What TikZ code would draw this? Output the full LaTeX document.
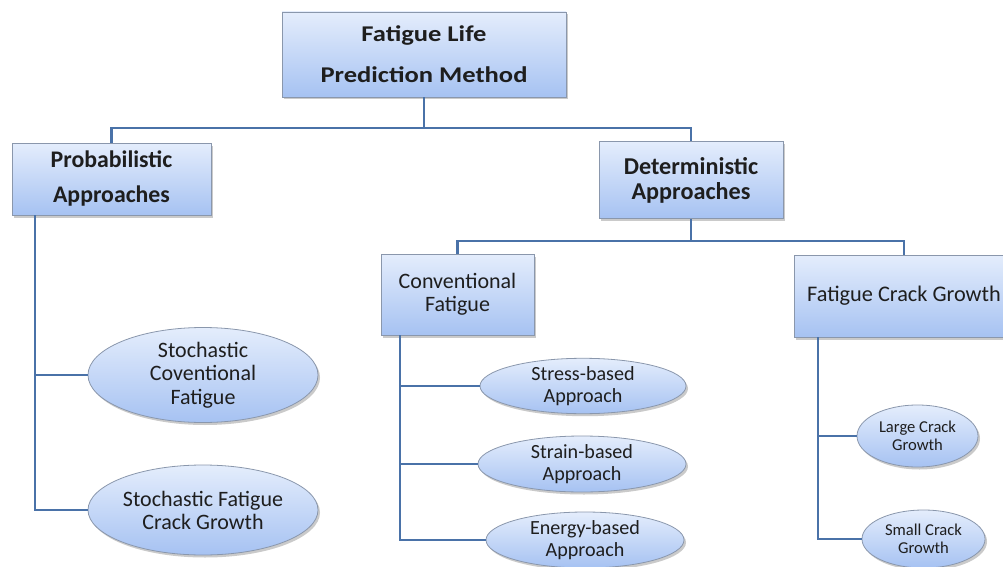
\documentclass[tikz,border=0pt]{standalone}
\usepackage{fontspec}
\setmainfont{Carlito}
\newfontfamily\widefont[FakeStretch=1.18]{Carlito}
\usetikzlibrary{shapes.geometric,shadows}
\definecolor{boxtop}{HTML}{E4EDFC}
\definecolor{boxbot}{HTML}{A6C2F2}
\definecolor{boxline}{HTML}{8A97AC}
\definecolor{conncol}{HTML}{4A72A8}
\definecolor{txt}{HTML}{1E1E1E}
\tikzset{
  shade/.style={top color=boxtop, bottom color=boxbot, draw=boxline, line width=0.8pt,
    drop shadow={shadow xshift=2pt, shadow yshift=-2.5pt, opacity=0.35, fill=black!60},
    text=txt, align=center, inner sep=0pt},
  rbox/.style={shade, rectangle},
  ell/.style={shade, ellipse},
  conn/.style={draw=conncol, line width=2.6pt},
}
\begin{document}
\begin{tikzpicture}[x=1pt,y=-1pt]
\useasboundingbox (0,0) rectangle (1003,567);
\clip (0,0) rectangle (1003,567);
% boxes
\node[rbox, minimum width=284pt, minimum height=85pt,
  font=\widefont\bfseries\fontsize{22.5}{41}\selectfont] (top) at (424,54.5) {Fatigue Life\\Prediction Method};
\node[rbox, minimum width=199pt, minimum height=72pt,
  font=\bfseries\fontsize{23.8}{35}\selectfont] (prob) at (111.5,179) {Probabilistic\\Approaches};
\node[rbox, minimum width=184pt, minimum height=77pt,
  font=\bfseries\fontsize{24.2}{25}\selectfont] (det) at (691,180) {Deterministic\\Approaches};
\node[rbox, minimum width=153pt, minimum height=81pt,
  font=\fontsize{22}{23}\selectfont] (conv) at (457.5,294.5) {Conventional\\Fatigue};
\node[rbox, minimum width=220pt, minimum height=82pt,
  font=\fontsize{22.3}{23}\selectfont] (fcg) at (904,296) {Fatigue Crack Growth};
% ellipses
\node[ell, minimum width=230pt, minimum height=95pt,
  font=\fontsize{22}{23.5}\selectfont] (sc) at (203,375) {Stochastic\\Coventional\\Fatigue};
\node[ell, minimum width=230pt, minimum height=90pt,
  font=\fontsize{22}{23}\selectfont] (sf) at (203,510) {Stochastic Fatigue\\Crack Growth};
\node[ell, minimum width=206pt, minimum height=54pt,
  font=\fontsize{20.1}{22}\selectfont] (stress) at (583,386) {Stress-based\\Approach};
\node[ell, minimum width=208pt, minimum height=56pt,
  font=\fontsize{20.1}{22}\selectfont] (strain) at (582,464) {Strain-based\\Approach};
\node[ell, minimum width=198pt, minimum height=56pt,
  font=\fontsize{20.1}{22}\selectfont] (energy) at (585,540) {Energy-based\\Approach};
\node[ell, minimum width=121pt, minimum height=62pt,
  font=\fontsize{16.6}{18}\selectfont] (large) at (917.5,436) {Large Crack\\Growth};
\node[ell, minimum width=123pt, minimum height=58pt,
  font=\fontsize{16.6}{18}\selectfont] (small) at (923.5,539) {Small Crack\\Growth};
% junction coordinates
\coordinate (j1) at (424,128);
\coordinate (j2) at (691,241);
\coordinate (pA) at (35,215);
\coordinate (cA) at (400,335);
\coordinate (fA) at (818,337);
% connectors
\draw[conn] (top.south) -- (j1);
\draw[conn] (j1) -| (prob.north);
\draw[conn] (j1) -| (det.north);
\draw[conn] (det.south) -- (j2);
\draw[conn] (j2) -| (conv.north);
\draw[conn] (j2) -| (fcg.north);
\draw[conn] (pA) |- (sc.west);
\draw[conn] (pA) |- (sf.west);
\draw[conn] (cA) |- (stress.west);
\draw[conn] (cA) |- (strain.west);
\draw[conn] (cA) |- (energy.west);
\draw[conn] (fA) |- (large.west);
\draw[conn] (fA) |- (small.west);
\end{tikzpicture}
\end{document}
